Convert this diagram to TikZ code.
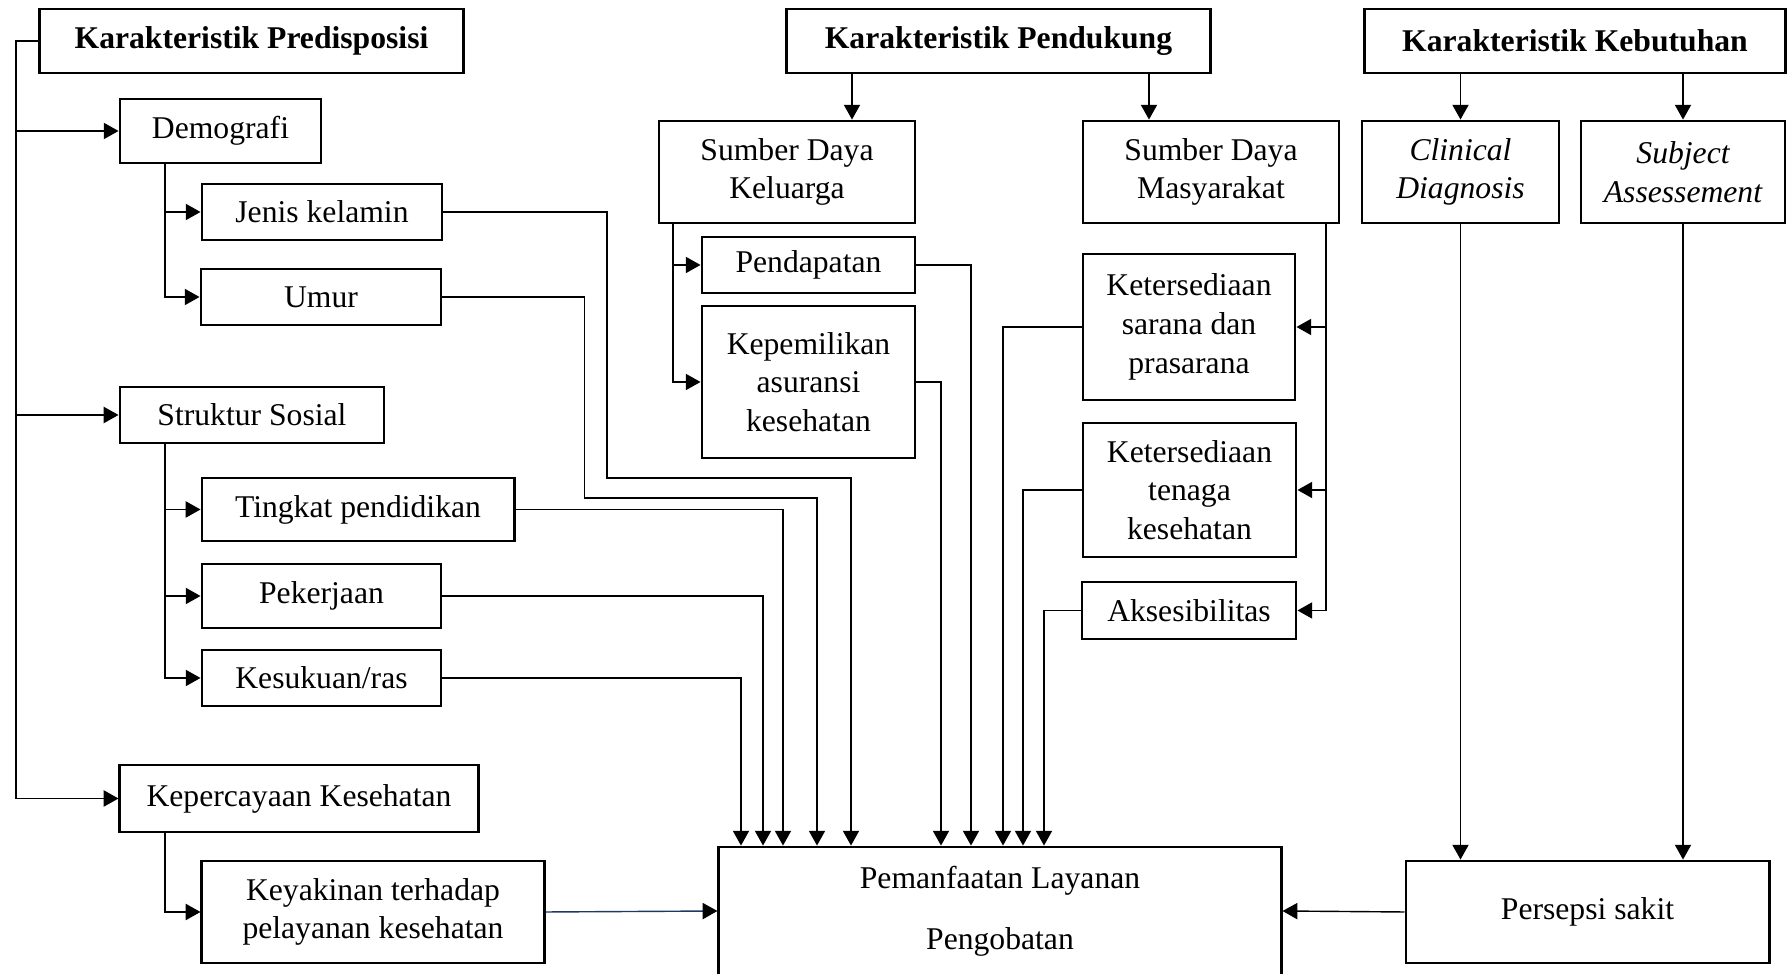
\documentclass[tikz,border=0pt]{standalone}
\usepackage{fontspec}
\setmainfont{Liberation Serif}
\usetikzlibrary{arrows.meta}
\definecolor{biru}{RGB}{31,56,100}
\newcommand{\ukuran}{\fontsize{9}{11}\selectfont}
\tikzset{
	kotak/.style={draw, line width=0.8pt, inner sep=0pt, align=center, font=\ukuran},
	judul/.style={kotak, font=\ukuran\bfseries},
	miring/.style={kotak, font=\ukuran\itshape},
	garis/.style={line width=0.4pt},
	panah/.style={garis, -{Triangle[length=4.2pt,width=4.6pt]}}
}

\begin{document}
\begin{tikzpicture}[x=0.01cm, y=-0.01cm]
	\useasboundingbox (0,0) rectangle (1787,974);

	% predisposisi
	\node[judul, minimum width=4.23cm, minimum height=0.64cm] (pred) at (251.5,41) {Karakteristik Predisposisi};
	\node[kotak, minimum width=2.01cm, minimum height=0.64cm] (demo) at (220.5,131) {Demografi};
	\node[kotak, minimum width=2.4cm, minimum height=0.56cm] (jk) at (322,212) {Jenis kelamin};
	\node[kotak, minimum width=2.4cm, minimum height=0.56cm] (umur) at (321,297) {Umur};
	\node[kotak, minimum width=2.64cm, minimum height=0.56cm] (sos) at (252,415) {Struktur Sosial};
	\node[kotak, minimum width=3.12cm, minimum height=0.63cm] (didik) at (358,509.5) {Tingkat pendidikan};
	\node[kotak, minimum width=2.39cm, minimum height=0.64cm] (kerja) at (321.5,596) {Pekerjaan};
	\node[kotak, minimum width=2.39cm, minimum height=0.56cm] (suku) at (321.5,678) {Kesukuan/ras};
	\node[kotak, minimum width=3.58cm, minimum height=0.67cm] (percaya) at (299,798.5) {Kepercayaan Kesehatan};
	\node[kotak, minimum width=3.42cm, minimum height=1.02cm] (yakin) at (373,912) {Keyakinan terhadap\\pelayanan kesehatan};

	% pendukung
	\node[judul, minimum width=4.23cm, minimum height=0.64cm] (dukung) at (998.5,41) {Karakteristik Pendukung};
	\node[kotak, minimum width=2.56cm, minimum height=1.02cm] (klg) at (787,172) {Sumber Daya\\Keluarga};
	\node[kotak, minimum width=2.56cm, minimum height=1.02cm] (msy) at (1211,172) {Sumber Daya\\Masyarakat};
	\node[kotak, minimum width=2.13cm, minimum height=0.56cm] (dapat) at (808.5,265) {Pendapatan};
	\node[kotak, minimum width=2.13cm, minimum height=1.52cm] (asur) at (808.5,382) {Kepemilikan\\asuransi\\kesehatan};
	\node[kotak, minimum width=2.12cm, minimum height=1.46cm] (sarana) at (1189,327) {Ketersediaan\\sarana dan\\prasarana};
	\node[kotak, minimum width=2.13cm, minimum height=1.34cm] (tenaga) at (1189.5,490) {Ketersediaan\\tenaga\\kesehatan};
	\node[kotak, minimum width=2.14cm, minimum height=0.57cm] (akses) at (1189,610.5) {Aksesibilitas};

	% kebutuhan
	\node[judul, minimum width=4.2cm, minimum height=0.64cm] (butuh) at (1575,41) {Karakteristik Kebutuhan};
	\node[miring, minimum width=1.97cm, minimum height=1.02cm] (klinis) at (1460.5,172) {Clinical\\Diagnosis};
	\node[miring, minimum width=2.04cm, minimum height=1.02cm] (subj) at (1683,172) {Subject\\Assessement};

	\node[kotak, minimum width=5.62cm, minimum height=1.28cm] (manfaat) at (1000,911) {Pemanfaatan Layanan\\[6.4pt]Pengobatan};
	\node[kotak, minimum width=3.63cm, minimum height=1.02cm] (sakit) at (1587.5,912) {Persepsi sakit};

	\coordinate (kiri) at (16,41);
	\coordinate (cab) at (165,0);
	\coordinate (cabk) at (673,0);
	\coordinate (cabm) at (1326,0);
	\coordinate (ka) at (852,0);
	\coordinate (kb) at (1149,0);

	\draw[panah] (pred.west) -- (kiri) |- (percaya.west);
	\foreach \n in {demo,sos}
		\draw[panah] (kiri |- \n.west) -- (\n.west);

	\draw[panah] (demo.south -| cab) |- (umur.west);
	\draw[panah] (sos.south -| cab) |- (suku.west);
	\draw[panah] (percaya.south -| cab) |- (yakin.west);
	\foreach \n in {jk,didik,kerja}
		\draw[panah] (cab |- \n.west) -- (\n.west);

	\draw[panah] (dukung.south -| ka) -- (klg.north -| ka);
	\draw[panah] (dukung.south -| kb) -- (msy.north -| kb);
	\draw[panah] (klg.south -| cabk) |- (asur.west);
	\draw[panah] (cabk |- dapat.west) -- (dapat.west);
	\draw[panah] (msy.south -| cabm) |- (akses.east);
	\foreach \n in {sarana,tenaga}
		\draw[panah] (cabm |- \n.east) -- (\n.east);

	\draw[panah] (butuh.south -| klinis.north) -- (klinis.north);
	\draw[panah] (butuh.south -| subj.north) -- (subj.north);
	\draw[panah] (klinis.south) -- (klinis.south |- sakit.north);
	\draw[panah] (subj.south) -- (subj.south |- sakit.north);

	% masuk ke pemanfaatan
	\coordinate (t4) at (817,0);
	\coordinate (t5) at (851,0);
	\draw[panah] (jk.east) -| (607,478) -| (manfaat.north -| t5);
	\draw[panah] (umur.east) -| (584.5,498) -| (manfaat.north -| t4);
	\foreach \n/\x in {suku/741,kerja/763,didik/783,asur/941,dapat/971}{
		\coordinate (t) at (\x,0);
		\draw[panah] (\n.east) -| (manfaat.north -| t);
	}
	\foreach \n/\x in {sarana/1003,tenaga/1023,akses/1044}{
		\coordinate (t) at (\x,0);
		\draw[panah] (\n.west) -| (manfaat.north -| t);
	}
	\draw[garis, biru, -{Triangle[length=4.2pt,width=4.6pt,color=black]}] (yakin.east) -- (manfaat.west);
	\draw[panah] (sakit.west) -- (manfaat.east);
\end{tikzpicture}
\end{document}
